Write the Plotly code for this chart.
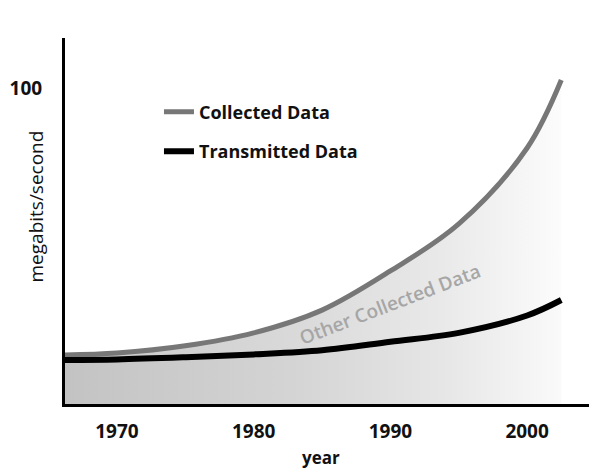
import plotly.graph_objects as go

# ---- data ----
years = [1966.2, 1970, 1975, 1980, 1985, 1990, 1995, 2000, 2002.5]
collected = [15.5, 16.1, 18.4, 22.5, 29.7, 42.1, 57.0, 81.0, 102.5]
transmitted = [13.9, 14.1, 14.8, 15.7, 17.0, 19.7, 22.5, 28.0, 32.9]

x_ticks = [1970, 1980, 1990, 2000]
x_tick_labels = ["1970", "1980", "1990", "2000"]
y_ticks = [100]
y_tick_labels = ["100"]

series_names = ["Collected Data", "Transmitted Data"]
area_label = "Other Collected Data"
x_title = "year"
y_title = "megabits/second"

FONT = "Open Sans"

fig = go.Figure()

# lower fill under transmitted data
fig.add_trace(go.Scatter(
    x=years, y=transmitted, mode="lines", line=dict(width=0, shape="spline"),
    fill="tozeroy",
    fillgradient=dict(type="horizontal", start=1966.2, stop=2003,
                      colorscale=[[0, "#c3c3c3"], [0.45, "#d4d4d4"],
                                  [0.75, "#e6e6e6"], [1, "#fbfbfb"]]),
    showlegend=False, hoverinfo="skip"))

# fill between transmitted and collected
fig.add_trace(go.Scatter(
    x=years, y=collected, mode="lines", line=dict(width=0, shape="spline"),
    fill="tonexty",
    fillgradient=dict(type="horizontal", start=1966.2, stop=2003,
                      colorscale=[[0, "#c8c8c8"], [0.45, "#d9d9d9"],
                                  [0.75, "#e9e9e9"], [1, "#fdfdfd"]]),
    showlegend=False, hoverinfo="skip"))

# lines
fig.add_trace(go.Scatter(
    x=years, y=collected, mode="lines", name=series_names[0],
    line=dict(color="#777777", width=5, shape="spline"),
    legendgroup="a"))
fig.add_trace(go.Scatter(
    x=years, y=transmitted, mode="lines", name=series_names[1],
    line=dict(color="#000000", width=6, shape="spline"),
    legendgroup="b"))

fig.add_annotation(
    x=1990.0, y=31.6, xref="x", yref="y", text=area_label, showarrow=False,
    textangle=-21, xanchor="center", yanchor="middle",
    font=dict(family=FONT, size=19, color="#a6a6a6", weight=600))

fig.add_annotation(
    x=-0.055, y=0.54, xref="paper", yref="paper", text=y_title,
    showarrow=False, textangle=-90, xanchor="center", yanchor="middle",
    font=dict(family=FONT, size=19, color="#111111"))
fig.add_annotation(
    x=0.488, y=-0.145, xref="paper", yref="paper", text=x_title,
    showarrow=False, xanchor="center", yanchor="middle",
    font=dict(family=FONT, size=17, color="#111111", weight="bold"))

# page body adds an 8px offset; margins compensate so the plot area sits at
# x 65..590, y 38..404 in the window
fig.update_layout(
    width=597, height=470,
    margin=dict(l=57, r=15, t=30, b=74, autoexpand=False),
    paper_bgcolor="white", plot_bgcolor="white",
    font=dict(family=FONT, color="#111111"),
    showlegend=True,
    legend=dict(x=0.179, y=0.848, xanchor="left", yanchor="top",
                bgcolor="rgba(0,0,0,0)", tracegroupgap=13,
                font=dict(family=FONT, size=18, color="#111111", weight="bold")),
)
fig.update_xaxes(
    range=[1966.2, 2004.6], showgrid=False, zeroline=False, automargin=False,
    showline=True, linecolor="black", linewidth=3,
    tickvals=x_ticks, ticktext=x_tick_labels, ticks="",
    ticklabelstandoff=8,
    tickfont=dict(family=FONT, size=19, color="#111111", weight="bold"))
fig.update_yaxes(
    range=[0, 115.8], showgrid=False, zeroline=False, automargin=False,
    showline=True, linecolor="black", linewidth=3,
    tickvals=y_ticks, ticktext=y_tick_labels, ticks="",
    ticklabelstandoff=16,
    tickfont=dict(family=FONT, size=19, color="#111111", weight="bold"))

fig.write_html("out.html")
